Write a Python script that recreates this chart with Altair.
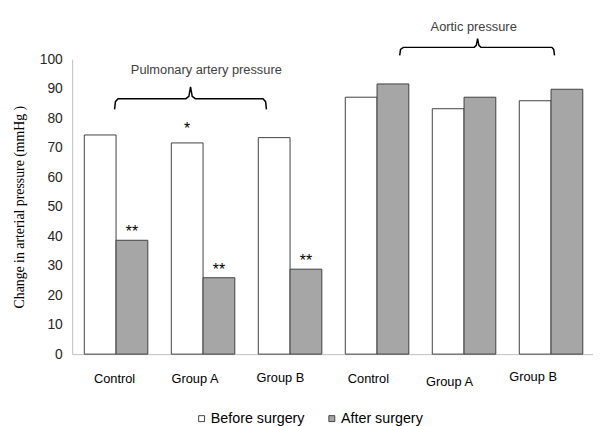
import altair as alt
import pandas as pd

# ---- data ----
keys = ["P|Control", "P|Group A", "P|Group B", "A|Control", "A|Group A", "A|Group B"]
before = [74.3, 71.6, 73.4, 87.1, 83.2, 85.9]
after = [38.6, 25.9, 28.8, 91.6, 87.1, 89.8]
star_before = ["", "*", "", "", "", ""]
star_after = ["**", "**", "**", "", "", ""]
phases = ["Before surgery", "After surgery"]

# category labels as placed (hand-placed text boxes in the original figure)
cat_labels = ["Control", "Group A", "Group B", "Control", "Group A", "Group B"]
cat_label_u = [0.487, 1.41, 2.39, 3.40, 4.33, 5.29]
cat_label_v = [-8.4, -8.4, -8.1, -8.4, -9.3, -7.9]

# brace annotation shapes (x in category-step units, y in mmHg units)
brace_id = ["P"] * 11 + ["A"] * 11
brace_u = [0.487, 0.497, 0.527, 1.305, 1.34, 1.359, 1.378, 1.413, 2.19, 2.22, 2.23,
           3.759, 3.769, 3.80, 4.615, 4.638, 4.653, 4.668, 4.691, 5.505, 5.526, 5.536]
brace_v = [83.0, 85.6, 86.6, 86.6, 87.4, 90.6, 87.4, 86.6, 86.6, 85.6, 83.0,
           101.3, 103.3, 104.0, 104.0, 104.7, 107.0, 104.7, 104.0, 104.0, 103.3, 101.3]
group_titles = ["Pulmonary artery pressure", "Aortic pressure"]
group_u = [1.54, 4.608]
group_v = [96.2, 111.0]

rows = []
for i, k in enumerate(keys):
    rows.append({"key": k, "phase": phases[0], "v": before[i], "star": star_before[i]})
    rows.append({"key": k, "phase": phases[1], "v": after[i], "star": star_after[i]})
df = pd.DataFrame(rows)
braces = pd.DataFrame({"id": brace_id, "u": brace_u, "v": brace_v,
                       "ord": list(range(len(brace_u)))})
titles = pd.DataFrame({"t": group_titles, "u": group_u, "v": group_v})
catlab = pd.DataFrame({"t": cat_labels, "u": cat_label_u, "v": cat_label_v})

SANS = "Liberation Sans"
XR = [0, 530]   # x range in px (the plot runs slightly past the right edge, as in the reference)

yenc = alt.Y(
    "v:Q",
    scale=alt.Scale(domain=[0, 100], nice=False),
    axis=alt.Axis(
        values=list(range(0, 101, 10)), grid=False, ticks=False,
        domainColor="#BFBFBF", labelPadding=10, labelFontSize=14, labelFont=SANS,
        labelColor="#262626",
        title="Change in arterial pressure (mmHg )", titleFont="Liberation Serif",
        titleFontSize=14, titleFontWeight="normal", titleColor="#000000",
        titlePadding=13,
    ),
)

xband = alt.X(
    "key:N",
    sort=keys,
    scale=alt.Scale(domain=keys, range=XR, paddingInner=0.27, paddingOuter=0.14),
    axis=alt.Axis(labels=False, title=None, ticks=False, domainColor="#BFBFBF"),
)
xoff = alt.XOffset("phase:N", sort=phases, scale=alt.Scale(domain=phases, paddingInner=0, paddingOuter=0))

bars = alt.Chart(df).mark_bar(stroke="#404040", strokeWidth=1).encode(
    x=xband,
    xOffset=xoff,
    y=yenc,
    color=alt.Color(
        "phase:N",
        scale=alt.Scale(domain=phases, range=["#FFFFFF", "#A6A6A6"]),
        legend=alt.Legend(
            title=None, orient="none", legendX=124, legendY=357, direction="horizontal",
            symbolType="square", symbolSize=36, symbolStrokeColor="#404040",
            symbolStrokeWidth=1, labelFontSize=14.5, labelFont=SANS, labelColor="#000000",
            columnPadding=20, labelOffset=2,
        ),
    ),
)

stars2 = alt.Chart(df).transform_filter("datum.star == '**'").mark_text(
    baseline="bottom", dy=0, fontSize=16, font=SANS, color="#000000"
).encode(x=alt.X("key:N", sort=keys), xOffset=xoff, y=yenc, text="star:N")

stars1 = alt.Chart(df).transform_filter("datum.star == '*'").mark_text(
    baseline="bottom", dy=-6, fontSize=16, font=SANS, color="#000000"
).encode(x=alt.X("key:N", sort=keys), xOffset=xoff, y=yenc, text="star:N")

uenc = alt.X("u:Q", scale=alt.Scale(domain=[0, 6], range=XR, nice=False, zero=False), axis=None)

brace_lines = alt.Chart(braces).mark_line(color="#000000", strokeWidth=1.5).encode(
    x=uenc, y=yenc, detail="id:N", order="ord:Q"
)

title_text = alt.Chart(titles).mark_text(
    fontSize=13, font=SANS, color="#404040", baseline="middle"
).encode(x=uenc, y=yenc, text="t:N")

cat_text = alt.Chart(catlab).mark_text(
    fontSize=13, font=SANS, color="#000000", baseline="middle"
).encode(x=uenc, y=yenc, text="t:N")

main = alt.layer(bars, stars2, stars1)
annot = alt.layer(brace_lines, title_text, cat_text)

chart = (
    alt.layer(main, annot)
    .resolve_scale(x="independent")
    .properties(
        width=528, height=299,
        autosize=alt.AutoSizeParams(type="none"),
        padding={"left": 65, "top": 49, "right": 0, "bottom": 71},
    )
    .configure_view(stroke=None)
)

chart.save("out.html", embed_options={"renderer": "svg", "actions": False})
